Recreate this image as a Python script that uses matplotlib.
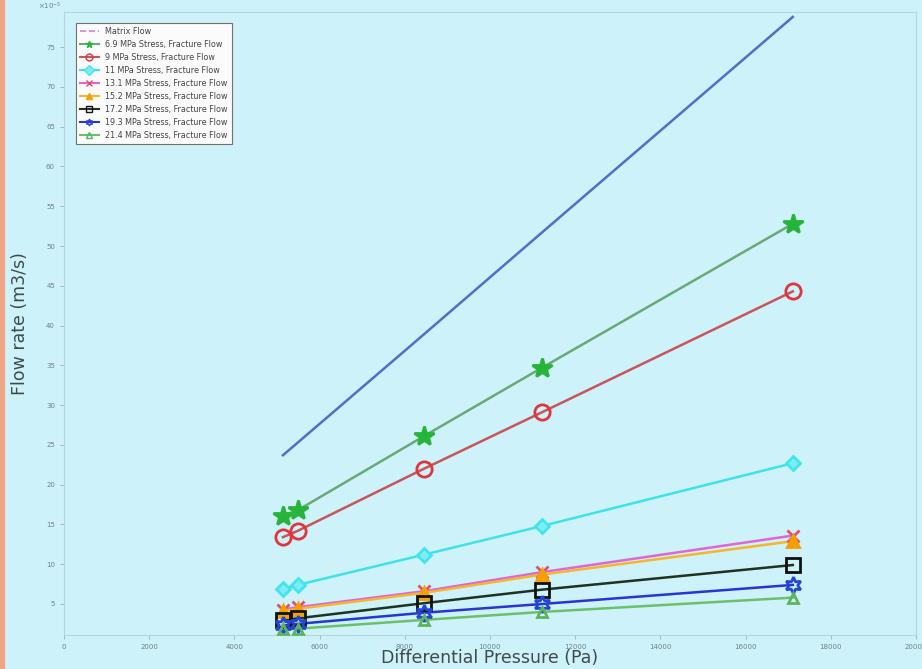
import matplotlib.pyplot as plt
from matplotlib.lines import Line2D
from matplotlib.patches import Rectangle

# differential pressure (Pa) at each measurement
pressure = [5140, 5490, 8450, 11220, 17110]

# flow rates, in units of 1e-5 m3/s
matrix_flow = [23.7, 25.3, 38.9, 51.7, 78.8]
flow_6_9 = [16.1, 16.8, 26.1, 34.7, 52.8]
flow_9 = [13.4, 14.2, 22.0, 29.1, 44.3]
flow_11 = [6.9, 7.4, 11.2, 14.8, 22.7]
flow_13_1 = [4.3, 4.6, 6.6, 9.0, 13.6]
flow_15_2 = [4.1, 4.4, 6.4, 8.7, 12.9]
flow_17_2 = [3.0, 3.2, 5.1, 6.8, 9.9]
flow_19_3 = [2.3, 2.5, 3.9, 5.0, 7.4]
flow_21_4 = [1.8, 1.9, 3.0, 4.0, 5.8]

stress_labels = ["6.9", "9", "11", "13.1", "15.2", "17.2", "19.3", "21.4"]

bg = "#cdf2f9"

fig = plt.figure(figsize=(9.22, 6.69), dpi=100, facecolor=bg)
fig.patches.append(Rectangle((0, 0), 0.004, 1, transform=fig.transFigure,
                             color="#f2a487", zorder=0))
ax = fig.add_axes([0.0694, 0.0508, 0.924, 0.931], facecolor=bg)

# matrix flow line
ax.plot(pressure, matrix_flow, color="#4f6fc9", lw=1.8)

# fracture flow at each confining stress: (data, line colour, marker, marker colour, face, size)
series = [
    (flow_6_9, "#6aa879", "*", "#27b43a", "#27b43a", 15),
    (flow_9, "#c8555a", "o", "#e0353c", "none", 11),
    (flow_11, "#3fe2ea", "D", "#45e4ec", "#7aeef2", 7),
    (flow_13_1, "#e065d6", "x", "#e0506a", "none", 8),
    (flow_15_2, "#f7b52a", "^", "#f5a000", "#f5a000", 8),
    (flow_17_2, "#1f3322", "s", "#111111", "none", 10),
    (flow_19_3, "#2536d4", (6, 1, 0), "#2545d8", "none", 12),
    (flow_21_4, "#6cc06c", "^", "#5cb45c", "none", 7),
]

handles = [Line2D([], [], color="#c58ad0", lw=1.2, ls="--")]
labels = ["Matrix Flow"]
for (vals, lc, mk, mc, fc, ms), s in zip(series, stress_labels):
    ax.plot(pressure, vals, color=lc, lw=1.8, zorder=3)
    ax.plot(pressure, vals, ls="none", marker=mk, markersize=ms,
            markeredgecolor=mc, markerfacecolor=fc, markeredgewidth=2, zorder=4)
    handles.append(Line2D([], [], color=lc, lw=1.5, marker=mk, markersize=5,
                          markeredgecolor=mc, markerfacecolor=fc, markeredgewidth=1))
    labels.append(s + " MPa Stress, Fracture Flow")

ax.set_xlim(0, 20000)
ax.set_ylim(1.1, 79.4)
ax.set_xticks(range(0, 20001, 2000))
ax.set_yticks(range(5, 76, 5))
ax.tick_params(labelsize=5, colors="#9ab0b4", labelcolor="#6f8082", length=3, width=0.6)
for sp in ax.spines.values():
    sp.set_color("#b4d6dc")
    sp.set_linewidth(0.8)

ax.set_xlabel("Differential Pressure (Pa)", fontsize=12.5, color="#404a4c", labelpad=-1)
ax.set_ylabel("Flow rate (m3/s)", fontsize=12.5, color="#404a4c", labelpad=12)
ax.text(-0.003, 1.0, r"$\times10^{-5}$", transform=ax.transAxes, fontsize=5,
        color="#6f8082", ha="right", va="bottom")

leg = ax.legend(handles, labels, loc="upper left", fontsize=5.8, frameon=True,
                fancybox=False, edgecolor="#707070", facecolor="#fbfbfb",
                framealpha=1, handlelength=2.4, labelspacing=0.5,
                borderpad=0.5, bbox_to_anchor=(0.009, 0.989))
leg.get_frame().set_linewidth(0.8)
for t in leg.get_texts():
    t.set_color("#444444")

fig.savefig("out.png", dpi=100, facecolor=bg)
